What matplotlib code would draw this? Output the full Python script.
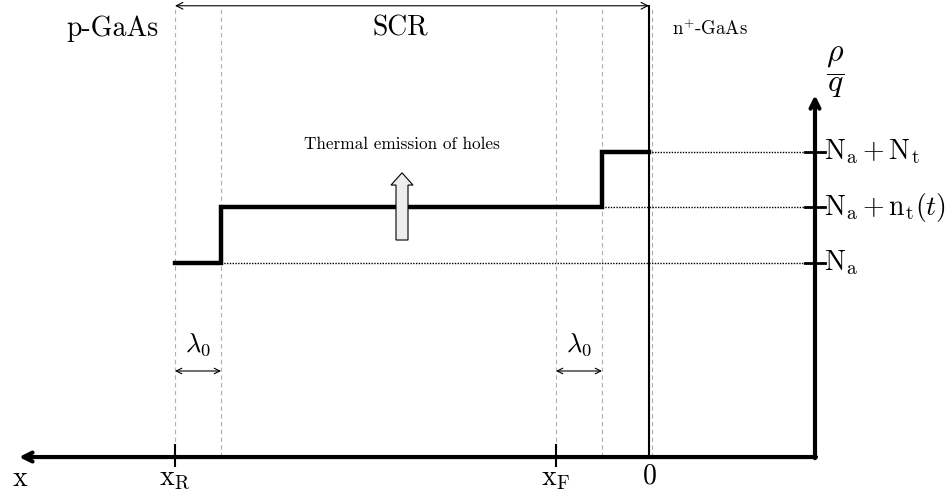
import matplotlib
matplotlib.use("Agg")
import numpy as np
from matplotlib import pyplot as plt
from matplotlib.patches import FancyArrow

plt.rcParams['mathtext.fontset'] = 'cm'
plt.rcParams['font.family'] = 'cmr10'
plt.rcParams['axes.unicode_minus'] = False

# positions along x (junction at 0, x grows to the left)
x_junc = 0.0
x_F = 93.0
x_R = 474.0
lam0 = 46.0
x_nplus = -3.0

# charge density levels rho/q
N_a = 3.5
n_t = 1.0
N_t = 2.0
levels = [N_a, N_a + n_t, N_a + N_t]
level_labels = [r'$\mathrm{N_a}$', r'$\mathrm{N_a + n_t}(t)$', r'$\mathrm{N_a + N_t}$']

# rho/q profile, steps at x_R - lam0 and x_F - lam0
prof_x = [x_R, x_R - lam0, x_F - lam0, x_junc]
prof_y = [N_a, N_a + n_t, N_a + N_t, N_a + N_t]

x_yaxis = -166.0
x_end = 630.0
y_top = 8.13
y_arrow = 6.52

fig = plt.figure(figsize=(9.52, 4.92), dpi=100)
ax = fig.add_axes([0, 0, 1, 1])
ax.set_xlim(649, -303)
ax.set_ylim(-0.63, 8.234)
ax.axis('off')

# dashed guides
for xv in [x_R, x_R - lam0, x_F, x_F - lam0, x_nplus]:
    ax.plot([xv, xv], [0, y_top - 0.05], color='#b0b0b0', lw=0.8,
            ls=(0, (4, 3)), zorder=1)

# junction
ax.plot([x_junc, x_junc], [0, y_top], color='black', lw=1.5, zorder=3)

# SCR extent
ax.annotate('', xy=(x_R, y_top), xytext=(x_junc, y_top),
            arrowprops=dict(arrowstyle='<->', lw=0.8, color='black',
                            shrinkA=0, shrinkB=0, mutation_scale=12))

# profile
ax.step(prof_x, prof_y, where='post', color='black', lw=3.2, zorder=4,
        solid_joinstyle='miter')

# dotted level lines to the rho axis
starts = [x_R - lam0, x_F - lam0, x_junc]
for xs, lv in zip(starts, levels):
    ax.plot([xs, x_yaxis + 10], [lv, lv], color='black', lw=1.0,
            ls=(0, (1, 1)), zorder=2)

# axes
ax.annotate('', xy=(x_end, 0), xytext=(x_yaxis - 1, 0),
            arrowprops=dict(arrowstyle='->', lw=3, color='black',
                            shrinkA=0, shrinkB=0, mutation_scale=16))
ax.annotate('', xy=(x_yaxis, y_arrow), xytext=(x_yaxis, -0.02),
            arrowprops=dict(arrowstyle='->', lw=3, color='black',
                            shrinkA=0, shrinkB=0, mutation_scale=16))

for lv, lab in zip(levels, level_labels):
    ax.plot([x_yaxis + 10, x_yaxis - 10], [lv, lv], color='black', lw=2)
    ax.text(x_yaxis - 9, lv, lab, fontsize=20, ha='left', va='center')

for xv in [x_R, x_F]:
    ax.plot([xv, xv], [-0.16, 0.22], color='black', lw=1.5)

ax.text(629, -0.40, r'$\mathrm{x}$', fontsize=20, ha='center', va='center')
ax.text(x_R, -0.39, r'$\mathrm{x_R}$', fontsize=20, ha='center', va='center')
ax.text(x_F, -0.39, r'$\mathrm{x_F}$', fontsize=20, ha='center', va='center')
ax.text(x_junc, -0.34, r'$0$', fontsize=20, ha='center', va='center')

ax.text(x_yaxis - 20, 6.94, r'$\dfrac{\rho}{q}$', fontsize=23, ha='center', va='center')

# lambda_0 markers
for xa in [x_R, x_F]:
    ax.annotate('', xy=(xa, 1.55), xytext=(xa - lam0, 1.55),
                arrowprops=dict(arrowstyle='<->', lw=0.8, color='black',
                                shrinkA=0, shrinkB=0, mutation_scale=10))
    ax.text(xa - lam0 / 2, 2.03, r'$\lambda_0$', fontsize=19, ha='center', va='center')

# region labels
ax.text(537, 7.72, 'p-GaAs', fontsize=20, ha='center', va='center')
ax.text(249, 7.72, 'SCR', fontsize=20, ha='center', va='center')
ax.text(-61, 7.72, r'n$^{+}$-GaAs', fontsize=13.5, ha='center', va='center')

# thermal emission arrow
ax.text(247, 5.64, 'Thermal emission of holes', fontsize=12.4, ha='center', va='center')
ax.add_patch(FancyArrow(247, 3.91, 0, 1.21, width=12, head_width=22,
                        head_length=0.22, length_includes_head=True,
                        facecolor='#eeeeee', edgecolor='black', lw=0.8, zorder=5))

fig.savefig('out.png', dpi=100)
